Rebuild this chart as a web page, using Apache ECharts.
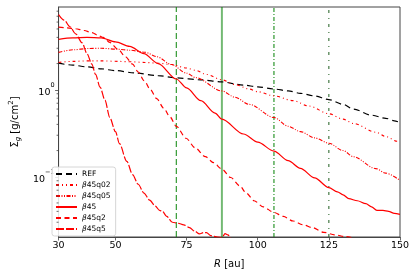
<!DOCTYPE html>
<html><head><meta charset="utf-8">
<script src="https://cdn.jsdelivr.net/npm/echarts@6/dist/echarts.min.js"></script>
<style>html,body{margin:0;padding:0;background:#fff}#c{width:415px;height:274px}</style>
</head><body><div id="c"></div>
<script>
// axis ticks
const xTicks = [30, 50, 75, 100, 125, 150];
const yTicks = [0.1, 1];
const yMinorTicks = [0.03, 0.04, 0.05, 0.06, 0.07, 0.08, 0.09, 0.2, 0.3, 0.4, 0.5, 0.6, 0.7, 0.8, 0.9, 2, 3, 4, 5, 6, 7, 8];
const xMin = 30, xMax = 150, yMin = 0.0203, yMax = 8.94;
// vertical reference lines (au)
const vlines = [71.4, 87.4, 105.7, 125];

// REF
const refX = [30, 35, 40, 45, 50, 57, 65, 71.4, 80, 87.4, 95, 100, 105.7, 110.7, 115, 120, 125, 130, 133.6, 140, 145, 148, 150];
const refY = [2.02, 1.92, 1.83, 1.74, 1.66, 1.56, 1.45, 1.37, 1.30, 1.23, 1.13, 1.08, 1.02, 0.97, 0.91, 0.85, 0.77, 0.68, 0.60, 0.51, 0.47, 0.44, 0.42];
// beta45q02
const q02X = [30, 35, 40.6, 45, 50.9, 55, 60.4, 65, 69.7, 75, 78.2, 82, 87.4, 92, 97, 100, 105.7, 112.4, 118, 125, 130, 133.6, 141.5, 145, 149, 150];
const q02Y = [2.06, 2.12, 2.15, 2.15, 2.12, 2.10, 2.06, 2.02, 1.95, 1.78, 1.67, 1.50, 1.30, 1.15, 1.02, 0.95, 0.85, 0.75, 0.65, 0.53, 0.46, 0.41, 0.325, 0.29, 0.256, 0.25];
// beta45q05
const q05X = [30, 35, 40.6, 45, 50.9, 55, 60.4, 64.5, 69.7, 75, 78.2, 87.4, 92, 97, 105.7, 110.7, 115, 120, 125, 130, 133.6, 141.5, 145, 150];
const q05Y = [2.69, 2.88, 2.98, 3.0, 2.92, 2.85, 2.7, 2.4, 1.95, 1.55, 1.38, 0.97, 0.82, 0.68, 0.48, 0.38, 0.33, 0.28, 0.243, 0.20, 0.17, 0.124, 0.11, 0.091];
// beta45
const b45X = [30, 35, 40, 45, 50, 55, 60, 65, 71.4, 75, 80, 85, 87.4, 95, 100, 105.7, 110.7, 115, 120, 125, 128, 130, 132, 135, 138, 140, 142, 144, 146, 148, 150];
const b45Y = [3.8, 3.95, 4.0, 3.95, 3.55, 3.15, 2.6, 2.0, 1.33, 1.05, 0.75, 0.54, 0.46, 0.31, 0.25, 0.197, 0.153, 0.125, 0.097, 0.075, 0.067, 0.062, 0.056, 0.053, 0.049, 0.045, 0.041, 0.041, 0.040, 0.038, 0.037];
// beta45q2
const q2X = [30, 33, 36, 39, 41.7, 44, 45.7, 48, 50.9, 53.5, 56, 58, 60.1, 62.3, 64.5, 67, 69.1, 71.4, 74.8, 78, 81.6, 84.5, 87.3, 90.5, 93.6, 96, 98.7, 102, 105.6, 109, 112.4, 116, 119.2, 123.2, 127, 131, 135];
const q2Y = [5.24, 5.15, 5.03, 4.8, 4.53, 4.2, 4.0, 3.5, 2.92, 2.4, 1.97, 1.6, 1.27, 1.0, 0.79, 0.61, 0.49, 0.38, 0.277, 0.215, 0.17, 0.145, 0.123, 0.098, 0.079, 0.065, 0.053, 0.045, 0.039, 0.035, 0.031, 0.028, 0.026, 0.023, 0.0215, 0.0205, 0.019];
// beta45q5
const q5X = [30, 32, 34, 36, 38.3, 40, 41.7, 43, 44.6, 46.3, 48, 50, 51.4, 54, 56, 58, 60, 62, 64, 65.5, 66.5, 68, 70, 72, 74, 76, 78, 79.5, 81, 82, 83.5, 86, 87.5, 88.5, 89.5, 91, 93];
const q5Y = [7.3, 6.3, 5.3, 4.4, 3.45, 2.6, 1.97, 1.5, 1.07, 0.76, 0.48, 0.33, 0.24, 0.15, 0.106, 0.082, 0.065, 0.054, 0.046, 0.041, 0.040, 0.035, 0.030, 0.0292, 0.028, 0.026, 0.0235, 0.022, 0.0228, 0.0228, 0.021, 0.0203, 0.0200, 0.0222, 0.0215, 0.019, 0.017];

const zip = (xs, ys) => xs.map((x, i) => [x, ys[i]]);
const FONT = 'DejaVu Sans';
const AX = '#444';

function lineSeries(name, xs, ys, color, type, width) {
  return {
    name, type: 'line', data: zip(xs, ys), showSymbol: false, symbol: 'none',
    smooth: 0.3, smoothMonotone: 'x', clip: true,
    lineStyle: { color, width, type }, itemStyle: { color }, z: 3
  };
}

const vStyles = [
  { color: 'rgba(0,128,0,0.75)', width: 1.3, type: [6, 3] },
  { color: 'rgba(0,128,0,0.55)', width: 2, type: 'solid' },
  { color: '#008000', width: 1, type: [4, 2, 1, 2] },
  { color: '#1f5f1f', width: 1, type: [3, 5, 1, 5] }
];

const series = [
  lineSeries('REF', refX, refY, '#000', [6, 4], 1.2),
  lineSeries('β45q02', q02X, q02Y, '#ff0000', [3, 3, 1, 3, 1, 3], 1.1),
  lineSeries('β45q05', q05X, q05Y, '#ff0000', [4, 1.5, 1, 1.5, 1, 1.5], 1.1),
  lineSeries('β45', b45X, b45Y, '#ff0000', 'solid', 1.2),
  lineSeries('β45q2', q2X, q2Y, '#ff0000', [5, 3.5], 1.2),
  lineSeries('β45q5', q5X, q5Y, '#ff0000', [8, 2], 1.2)
];
vlines.forEach((v, i) => {
  series.push({
    name: 'v' + i, type: 'line', data: [[v, yMin], [v, yMax]], showSymbol: false, symbol: 'none',
    lineStyle: vStyles[i], z: 2, silent: true
  });
});
series.push({
  name: 'minor', type: 'custom', clip: false, silent: true, z: 5,
  data: yMinorTicks.map(v => [xMin, v]), encode: { x: 0, y: 1 },
  renderItem: function (params, api) {
    const p = api.coord([api.value(0), api.value(1)]);
    return { type: 'line', shape: { x1: p[0] - 2, y1: p[1], x2: p[0], y2: p[1] }, style: { stroke: AX, lineWidth: 0.8 } };
  }
});

const chart = echarts.init(document.getElementById('c'), null, { renderer: 'canvas' });
chart.setOption({
  animation: false,
  backgroundColor: '#fff',
  textStyle: { fontFamily: FONT },
  grid: { left: 49, right: 15, top: 7, bottom: 34, show: true, borderColor: AX, borderWidth: 1, backgroundColor: 'transparent' },
  legend: {
    data: ['REF', 'β45q02', 'β45q05', 'β45', 'β45q2', 'β45q5'],
    orient: 'vertical', left: 52, top: 167,
    itemWidth: 21, itemHeight: 7, itemGap: 3,
    padding: [3, 5, 3, 3],
    borderColor: '#ccc', borderWidth: 0.8, borderRadius: 2.5,
    backgroundColor: 'rgba(255,255,255,0.85)',
    itemStyle: { opacity: 0, color: 'transparent', borderColor: 'transparent', borderWidth: 0 },
    formatter: n => n.replace('β', '{i|β}'),
    textStyle: { fontFamily: FONT, fontSize: 7.5, lineHeight: 7, color: '#000',
      rich: { i: { fontStyle: 'italic', fontSize: 7.5, fontFamily: FONT } } }
  },
  xAxis: {
    type: 'value', min: xMin, max: xMax,
    name: '{i|R} [au]', nameLocation: 'middle', nameGap: 22,
    nameTextStyle: { fontFamily: FONT, fontSize: 10, color: '#000', rich: { i: { fontStyle: 'italic', fontSize: 10, fontFamily: FONT } } },
    axisLine: { show: true, lineStyle: { color: AX, width: 1 } },
    axisTick: { show: true, length: 3.5, customValues: xTicks, lineStyle: { color: AX, width: 0.8 } },
    axisLabel: { customValues: xTicks, fontFamily: FONT, fontSize: 9.5, color: '#000', margin: 4 },
    splitLine: { show: false }
  },
  yAxis: {
    type: 'log', logBase: 10, min: yMin, max: yMax,
    name: '{n|Σ}{sub|g}{n| [g/cm}{sup|2}{n|]}', nameLocation: 'middle', nameGap: 33, nameRotate: 90,
    nameTextStyle: { fontFamily: FONT, fontSize: 10, color: '#000',
      rich: {
        n: { fontSize: 10, lineHeight: 14, fontFamily: FONT },
        sub: { fontSize: 7, lineHeight: 8, verticalAlign: 'bottom', fontStyle: 'italic', fontFamily: FONT },
        sup: { fontSize: 7, lineHeight: 8, verticalAlign: 'top', fontFamily: FONT }
      } },
    axisLine: { show: true, lineStyle: { color: AX, width: 1 } },
    axisTick: { show: true, length: 3.5, customValues: yTicks, lineStyle: { color: AX, width: 0.8 } },
    axisLabel: {
      customValues: yTicks, margin: 4, color: '#000',
      formatter: v => '{b|10}{s|' + String(Math.round(Math.log10(v))).replace('-', '−') + '}',
      rich: {
        b: { fontSize: 9.5, lineHeight: 16, verticalAlign: 'bottom', fontFamily: FONT, color: '#000' },
        s: { fontSize: 6.5, lineHeight: 8, verticalAlign: 'top', fontFamily: FONT, color: '#000' }
      }
    },
    splitLine: { show: false }
  },
  series
});
</script></body></html>
